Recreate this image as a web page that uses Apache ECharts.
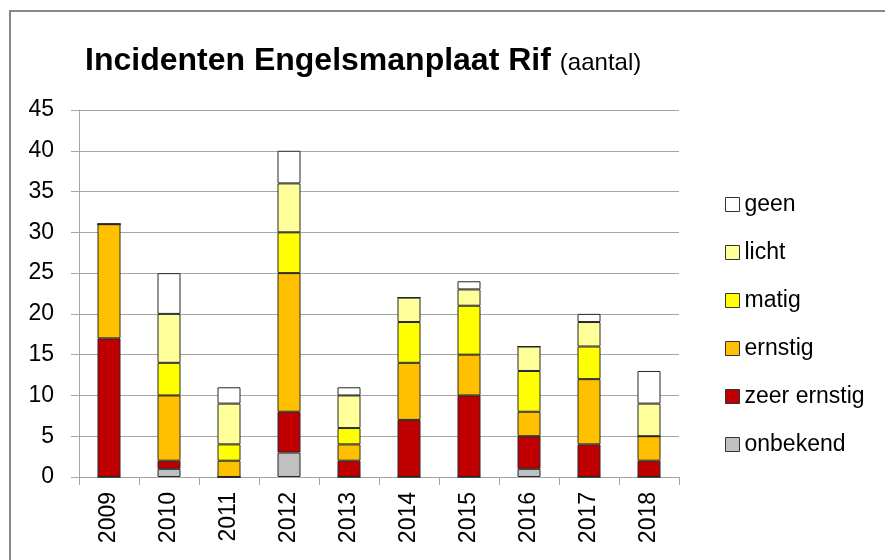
<!DOCTYPE html>
<html><head><meta charset="utf-8">
<script src="https://cdn.jsdelivr.net/npm/echarts@6/dist/echarts.min.js"></script>
<style>html,body{margin:0;padding:0;background:#fff}#c{width:885px;height:560px}</style>
</head><body><div id="c"></div>
<script>
var years = ['2009','2010','2011','2012','2013','2014','2015','2016','2017','2018'];
var onbekend    = [0, 1, 0, 3, 0, 0, 0, 1, 0, 0];
var zeerErnstig = [17, 1, 0, 5, 2, 7, 10, 4, 4, 2];
var ernstig     = [14, 8, 2, 17, 2, 7, 5, 3, 8, 3];
var matig       = [0, 4, 2, 5, 2, 5, 6, 5, 4, 0];
var licht       = [0, 6, 5, 6, 4, 3, 2, 3, 3, 4];
var geen        = [0, 5, 2, 4, 1, 0, 1, 0, 1, 4];
var yTicks = [0, 5, 10, 15, 20, 25, 30, 35, 40, 45];

var FONT = "'Liberation Sans', Arial, sans-serif";
var seriesDefs = [
  ['onbekend', onbekend, '#c0c0c0'],
  ['zeer ernstig', zeerErnstig, '#c00000'],
  ['ernstig', ernstig, '#ffc000'],
  ['matig', matig, '#ffff00'],
  ['licht', licht, '#ffff99'],
  ['geen', geen, '#ffffff']
];
var chart = echarts.init(document.getElementById('c'), null, {renderer: 'canvas'});
chart.setOption({
  animation: false,
  backgroundColor: '#fff',
  title: {
    text: '{a|Incidenten Engelsmanplaat Rif} {b|(aantal)}',
    left: 80, top: 40,
    textStyle: {
      rich: {
        a: {fontFamily: FONT, fontWeight: 'bold', fontSize: 32, color: '#000'},
        b: {fontFamily: FONT, fontWeight: 'normal', fontSize: 24, color: '#000', padding: [5, 0, 0, 4]}
      }
    }
  },
  legend: {
    orient: 'vertical',
    left: 720, top: 188,
    itemWidth: 14, itemHeight: 14,
    itemGap: 25,
    icon: 'rect',
    data: ['geen', 'licht', 'matig', 'ernstig', 'zeer ernstig', 'onbekend'],
    textStyle: {fontFamily: FONT, fontSize: 23, color: '#000', lineHeight: 23},
    itemStyle: {borderColor: '#333', borderWidth: 1}
  },
  graphic: [{
    type: 'rect', shape: {x: 10, y: 11, width: 1000, height: 1000},
    style: {fill: 'none', stroke: '#888', lineWidth: 2}, silent: true
  }],
  grid: {left: 79, right: 206, top: 110, bottom: 83, containLabel: false},
  xAxis: {
    type: 'category', data: years,
    axisLine: {lineStyle: {color: '#a6a6a6', width: 1}},
    axisTick: {show: true, length: 8, alignWithLabel: false, lineStyle: {color: '#a6a6a6'}},
    axisLabel: {rotate: 90, fontFamily: FONT, fontSize: 23, color: '#000', margin: 15}
  },
  yAxis: {
    type: 'value', min: 0, max: 45, interval: 5,
    axisLine: {show: true, lineStyle: {color: '#a6a6a6', width: 1}},
    axisTick: {show: true, length: 8, lineStyle: {color: '#a6a6a6'}},
    axisLabel: {fontFamily: FONT, fontSize: 23, color: '#000', margin: 25},
    splitLine: {lineStyle: {color: '#a6a6a6', width: 1}}
  },
  series: seriesDefs.map(function (d) {
    return {
      name: d[0], type: 'bar', stack: 'total', data: d[1],
      barWidth: 23,
      itemStyle: {color: d[2], borderColor: '#262626', borderWidth: 1}
    };
  })
});
</script></body></html>
